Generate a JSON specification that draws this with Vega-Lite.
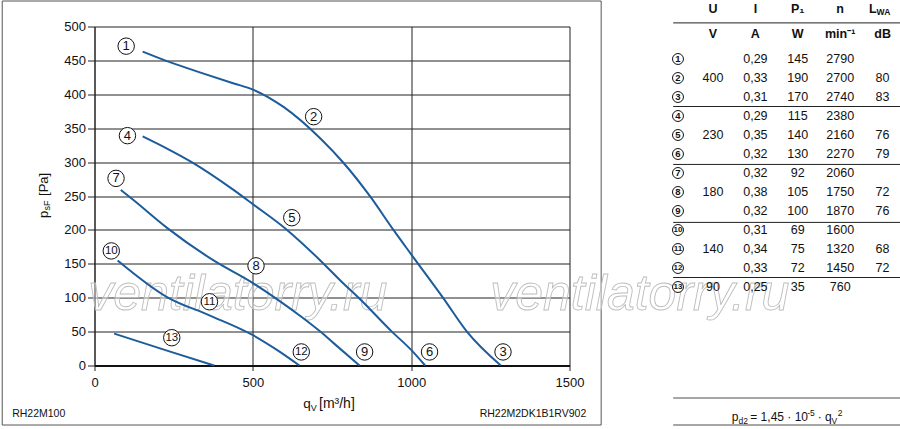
{
  "$schema": "https://vega.github.io/schema/vega-lite/v6.json",
  "background": "white",
  "padding": {"left": 1.5, "top": 0.5, "right": 0, "bottom": 0},
  "bounds": "flush",
  "spacing": 103.7,
  "config": {
    "font": "Liberation Sans",
    "view": {"stroke": null},
    "axis": {
      "labelFont": "Liberation Sans",
      "labelFontSize": 13,
      "labelColor": "#111",
      "gridColor": "#222",
      "gridOpacity": 1,
      "tickColor": "#222",
      "domainColor": "#222",
      "title": null
    },
    "axisY": {"tickCount": 20, "tickSize": 7, "labelPadding": 2, "labelOverlap": false, "format": "d"}
  },
  "datasets": {
    "curves": [
      {"s": "400V", "q": 152, "p": 463}, {"s": "400V", "q": 240, "p": 447}, {"s": "400V", "q": 335, "p": 432},
      {"s": "400V", "q": 440, "p": 416}, {"s": "400V", "q": 500, "p": 407}, {"s": "400V", "q": 598, "p": 381},
      {"s": "400V", "q": 715, "p": 334}, {"s": "400V", "q": 786, "p": 299},
      {"s": "400V", "q": 871, "p": 249}, {"s": "400V", "q": 944, "p": 200}, {"s": "400V", "q": 1000, "p": 164},
      {"s": "400V", "q": 1102, "p": 99}, {"s": "400V", "q": 1176, "p": 50}, {"s": "400V", "q": 1283, "p": 0},
      {"s": "230V", "q": 152, "p": 338}, {"s": "230V", "q": 229, "p": 320}, {"s": "230V", "q": 307, "p": 300},
      {"s": "230V", "q": 439, "p": 259}, {"s": "230V", "q": 500, "p": 238}, {"s": "230V", "q": 608, "p": 200},
      {"s": "230V", "q": 713, "p": 155}, {"s": "230V", "q": 786, "p": 121},
      {"s": "230V", "q": 834, "p": 100}, {"s": "230V", "q": 939, "p": 50}, {"s": "230V", "q": 1000, "p": 23},
      {"s": "230V", "q": 1044, "p": 0},
      {"s": "180V", "q": 83, "p": 259}, {"s": "180V", "q": 123, "p": 244}, {"s": "180V", "q": 229, "p": 203},
      {"s": "180V", "q": 376, "p": 155}, {"s": "180V", "q": 499, "p": 122}, {"s": "180V", "q": 576, "p": 98},
      {"s": "180V", "q": 650, "p": 73}, {"s": "180V", "q": 713, "p": 50}, {"s": "180V", "q": 755, "p": 33},
      {"s": "180V", "q": 837, "p": 0},
      {"s": "140V", "q": 73, "p": 155}, {"s": "140V", "q": 229, "p": 101}, {"s": "140V", "q": 363, "p": 74},
      {"s": "140V", "q": 499, "p": 45}, {"s": "140V", "q": 576, "p": 23}, {"s": "140V", "q": 647, "p": 0},
      {"s": "90V", "q": 62, "p": 47}, {"s": "90V", "q": 229, "p": 22}, {"s": "90V", "q": 378, "p": 0}
    ],
    "labels": [
      {"k": 1, "q": 100, "p": 471}, {"k": 2, "q": 692, "p": 367}, {"k": 3, "q": 1290, "p": 20},
      {"k": 4, "q": 104, "p": 339}, {"k": 5, "q": 623, "p": 218}, {"k": 6, "q": 1058, "p": 20},
      {"k": 7, "q": 68, "p": 276}, {"k": 8, "q": 510, "p": 147}, {"k": 9, "q": 853, "p": 20},
      {"k": 10, "q": 53, "p": 169}, {"k": 11, "q": 363, "p": 94}, {"k": 12, "q": 653, "p": 20},
      {"k": 13, "q": 244, "p": 41}
    ],
    "table": [
      {"r": 1, "id": 1, "U": "", "I": "0,29", "P": "145", "n": "2790", "L": ""},
      {"r": 2, "id": 2, "U": "400", "I": "0,33", "P": "190", "n": "2700", "L": "80"},
      {"r": 3, "id": 3, "U": "", "I": "0,31", "P": "170", "n": "2740", "L": "83"},
      {"r": 4, "id": 4, "U": "", "I": "0,29", "P": "115", "n": "2380", "L": ""},
      {"r": 5, "id": 5, "U": "230", "I": "0,35", "P": "140", "n": "2160", "L": "76"},
      {"r": 6, "id": 6, "U": "", "I": "0,32", "P": "130", "n": "2270", "L": "79"},
      {"r": 7, "id": 7, "U": "", "I": "0,32", "P": "92", "n": "2060", "L": ""},
      {"r": 8, "id": 8, "U": "180", "I": "0,38", "P": "105", "n": "1750", "L": "72"},
      {"r": 9, "id": 9, "U": "", "I": "0,32", "P": "100", "n": "1870", "L": "76"},
      {"r": 10, "id": 10, "U": "", "I": "0,31", "P": "69", "n": "1600", "L": ""},
      {"r": 11, "id": 11, "U": "140", "I": "0,34", "P": "75", "n": "1320", "L": "68"},
      {"r": 12, "id": 12, "U": "", "I": "0,33", "P": "72", "n": "1450", "L": "72"},
      {"r": 13, "id": 13, "U": "90", "I": "0,25", "P": "35", "n": "760", "L": ""}
    ]
  },
  "hconcat": [
    {
      "width": 475,
      "height": 339,
      "layer": [
        {
          "data": {"values": [{}]},
          "mark": {"type": "rect", "fillOpacity": 0, "stroke": "#555", "strokeWidth": 1},
          "encoding": {
            "x": {
              "datum": -291.4, "type": "quantitative",
              "scale": {"domain": [0, 1500], "nice": false, "zero": false},
              "axis": {"values": [0, 500, 1000, 1500], "format": "d", "grid": true, "title": null, "tickSize": 5, "labelPadding": 6, "labelFlush": false, "domainWidth": 2, "domainColor": "#111"}
            },
            "x2": {"datum": 1600},
            "y": {
              "datum": 537.6, "type": "quantitative",
              "scale": {"domain": [0, 500], "nice": false, "zero": false}
            },
            "y2": {"datum": -87.8}
          }
        },
        {
          "data": {"values": [{}]},
          "mark": {"type": "text", "text": "ventilatorry.ru", "fontSize": 50, "fontStyle": "italic", "align": "left", "baseline": "alphabetic", "fill": "#ffffff", "fillOpacity": 0.4, "stroke": "#bdbdbd", "strokeWidth": 0.9},
          "encoding": {
            "x": {"datum": -20, "type": "quantitative"},
            "y": {"datum": 82, "type": "quantitative"}
          }
        },
        {
          "data": {"values": [{}]},
          "mark": {"type": "text", "text": "ventilatorry.ru", "fontSize": 50, "fontStyle": "italic", "align": "left", "baseline": "alphabetic", "fill": "#ffffff", "fillOpacity": 0.4, "stroke": "#bdbdbd", "strokeWidth": 0.9},
          "encoding": {
            "x": {"datum": 1249.5, "type": "quantitative"},
            "y": {"datum": 82, "type": "quantitative"}
          }
        },
        {
          "data": {"name": "curves"},
          "mark": {"type": "line", "interpolate": "monotone", "color": "#1d5c9b", "strokeWidth": 2},
          "encoding": {
            "x": {"field": "q", "type": "quantitative"},
            "y": {
              "field": "p", "type": "quantitative",
              "scale": {"domain": [0, 500], "nice": false, "zero": false},
              "axis": {"values": [0, 50, 100, 150, 200, 250, 300, 350, 400, 450, 500], "tickCount": 20, "format": "d", "grid": true, "title": null, "tickSize": 7, "labelPadding": 2, "labelOverlap": false}
            },
            "detail": {"field": "s"}
          }
        },
        {
          "data": {"name": "labels"},
          "mark": {"type": "point", "shape": "circle", "filled": true, "fill": "white", "stroke": "#111", "strokeWidth": 1, "size": 270, "opacity": 1},
          "encoding": {
            "x": {"field": "q", "type": "quantitative"},
            "y": {"field": "p", "type": "quantitative"}
          }
        },
        {
          "data": {"name": "labels"},
          "mark": {"type": "text", "align": "center", "baseline": "middle", "color": "#111"},
          "encoding": {
            "x": {"field": "q", "type": "quantitative"},
            "y": {"field": "p", "type": "quantitative"},
            "text": {"field": "k"},
            "size": {"condition": {"test": "datum.k > 9", "value": 11.5}, "value": 13}
          }
        },
        {
          "data": {"values": [{"t": "p"}, {"t": "sF"}, {"t": "[Pa]"}]},
          "layer": [
            {
              "transform": [{"filter": "datum.t == 'p'"}],
              "mark": {"type": "text", "angle": 270, "align": "left", "baseline": "alphabetic", "fontSize": 13, "color": "#111"},
              "encoding": {
                "x": {"datum": -147.8, "type": "quantitative"},
                "y": {"datum": 217.6, "type": "quantitative"},
                "text": {"field": "t"}
              }
            },
            {
              "transform": [{"filter": "datum.t == 'sF'"}],
              "mark": {"type": "text", "angle": 270, "align": "left", "baseline": "alphabetic", "fontSize": 9, "dx": 7.5, "dy": 2.5, "color": "#111"},
              "encoding": {
                "x": {"datum": -147.8, "type": "quantitative"},
                "y": {"datum": 217.6, "type": "quantitative"},
                "text": {"field": "t"}
              }
            },
            {
              "transform": [{"filter": "datum.t == '[Pa]'"}],
              "mark": {"type": "text", "angle": 270, "align": "left", "baseline": "alphabetic", "fontSize": 13, "dx": 22, "color": "#111"},
              "encoding": {
                "x": {"datum": -147.8, "type": "quantitative"},
                "y": {"datum": 217.6, "type": "quantitative"},
                "text": {"field": "t"}
              }
            }
          ]
        },
        {
          "data": {"values": [{}]},
          "mark": {"type": "text", "text": "q", "align": "left", "baseline": "alphabetic", "fontSize": 13.5, "dx": -28.8, "color": "#111"},
          "encoding": {
            "x": {"datum": 750, "type": "quantitative"},
            "y": {"datum": -62.7, "type": "quantitative"}
          }
        },
        {
          "data": {"values": [{}]},
          "mark": {"type": "text", "text": "V", "align": "left", "baseline": "alphabetic", "fontSize": 9, "dx": -21.2, "dy": 3, "color": "#111"},
          "encoding": {
            "x": {"datum": 750, "type": "quantitative"},
            "y": {"datum": -62.7, "type": "quantitative"}
          }
        },
        {
          "data": {"values": [{}]},
          "mark": {"type": "text", "text": "[m³/h]", "align": "left", "baseline": "alphabetic", "fontSize": 14, "dx": -13, "color": "#111"},
          "encoding": {
            "x": {"datum": 750, "type": "quantitative"},
            "y": {"datum": -62.7, "type": "quantitative"}
          }
        },
        {
          "data": {"values": [{}]},
          "mark": {"type": "text", "text": "RH22M100", "align": "left", "baseline": "alphabetic", "fontSize": 10.5, "color": "#111"},
          "encoding": {
            "x": {"datum": -260, "type": "quantitative"},
            "y": {"datum": -76, "type": "quantitative"}
          }
        },
        {
          "data": {"values": [{}]},
          "mark": {"type": "text", "text": "RH22M2DK1B1RV902", "align": "right", "baseline": "alphabetic", "fontSize": 10.5, "color": "#111"},
          "encoding": {
            "x": {"datum": 1553, "type": "quantitative"},
            "y": {"datum": -76, "type": "quantitative"}
          }
        }
      ]
    },
    {
      "width": 227,
      "height": 398.5,
      "layer": [
        {
          "data": {"values": [{"b": -0.9}, {"b": 3.5}, {"b": 6.55}, {"b": 9.6}, {"b": 12.5}]},
          "mark": {"type": "rule", "color": "#222", "strokeWidth": 1},
          "encoding": {
            "y": {"field": "b", "type": "quantitative", "scale": {"domain": [-0.7105, 20.263], "reverse": true, "nice": false, "zero": false}, "axis": null}
          }
        },
        {
          "data": {"values": [{"b": 18.84}, {"b": 20.26}]},
          "mark": {"type": "rule", "color": "#888", "strokeWidth": 1.5},
          "encoding": {
            "y": {"field": "b", "type": "quantitative", "scale": {"domain": [-0.7105, 20.263], "reverse": true, "nice": false, "zero": false}, "axis": null}
          }
        },
        {
          "data": {"name": "table"},
          "mark": {"type": "point", "shape": "circle", "filled": true, "fill": "white", "stroke": "#111", "strokeWidth": 1, "size": 120, "opacity": 1, "xOffset": -35},
          "encoding": {
            "x": {"datum": "U", "type": "nominal", "scale": {"type": "point", "domain": ["U", "I", "P", "n", "L"], "padding": 0.677, "align": 0.693}, "axis": null},
            "y": {"field": "r", "type": "quantitative", "scale": {"domain": [-0.7105, 20.263], "reverse": true, "nice": false, "zero": false}, "axis": null}
          }
        },
        {
          "data": {"name": "table"},
          "mark": {"type": "text", "fontWeight": "bold", "dx": -35, "align": "center", "baseline": "middle", "color": "#111"},
          "encoding": {
            "x": {"datum": "U", "type": "nominal", "scale": {"type": "point", "domain": ["U", "I", "P", "n", "L"], "padding": 0.677, "align": 0.693}, "axis": null},
            "y": {"field": "r", "type": "quantitative", "scale": {"domain": [-0.7105, 20.263], "reverse": true, "nice": false, "zero": false}, "axis": null},
            "text": {"field": "id"},
            "size": {"condition": {"test": "datum.id > 9", "value": 8}, "value": 9.5}
          }
        },
        {
          "data": {"name": "table"},
          "transform": [{"fold": ["U", "I", "P", "n", "L"], "as": ["col", "val"]}],
          "mark": {"type": "text", "fontSize": 12.5, "align": "center", "baseline": "middle", "color": "#111"},
          "encoding": {
            "x": {"field": "col", "type": "nominal", "scale": {"type": "point", "domain": ["U", "I", "P", "n", "L"], "padding": 0.677, "align": 0.693}, "axis": null},
            "y": {"field": "r", "type": "quantitative", "scale": {"domain": [-0.7105, 20.263], "reverse": true, "nice": false, "zero": false}, "axis": null},
            "text": {"field": "val"}
          }
        },
        {
          "data": {"values": [{"r": -1, "U": "U", "I": "I", "P": "P₁", "n": "n"}]},
          "transform": [{"fold": ["U", "I", "P", "n"], "as": ["col", "val"]}],
          "mark": {"type": "text", "fontSize": 12.5, "fontWeight": "bold", "align": "center", "baseline": "middle", "dy": -12, "color": "#111"},
          "encoding": {
            "x": {"field": "col", "type": "nominal", "scale": {"type": "point", "domain": ["U", "I", "P", "n", "L"], "padding": 0.677, "align": 0.693}, "axis": null},
            "y": {"field": "r", "type": "quantitative", "scale": {"domain": [-0.7105, 20.263], "reverse": true, "nice": false, "zero": false}, "axis": null},
            "text": {"field": "val"}
          }
        },
        {
          "data": {"values": [{"r": -1}]},
          "mark": {"type": "text", "text": "L", "fontSize": 12.5, "fontWeight": "bold", "align": "right", "baseline": "middle", "dx": -6, "dy": -12, "color": "#111"},
          "encoding": {
            "x": {"datum": "L", "type": "nominal", "scale": {"type": "point", "domain": ["U", "I", "P", "n", "L"], "padding": 0.677, "align": 0.693}, "axis": null},
            "y": {"field": "r", "type": "quantitative", "scale": {"domain": [-0.7105, 20.263], "reverse": true, "nice": false, "zero": false}, "axis": null}
          }
        },
        {
          "data": {"values": [{"r": -1}]},
          "mark": {"type": "text", "text": "WA", "fontSize": 8.5, "fontWeight": "bold", "align": "left", "baseline": "middle", "dx": -6, "dy": -9, "color": "#111"},
          "encoding": {
            "x": {"datum": "L", "type": "nominal", "scale": {"type": "point", "domain": ["U", "I", "P", "n", "L"], "padding": 0.677, "align": 0.693}, "axis": null},
            "y": {"field": "r", "type": "quantitative", "scale": {"domain": [-0.7105, 20.263], "reverse": true, "nice": false, "zero": false}, "axis": null}
          }
        },
        {
          "data": {"values": [{"r": 0, "U": "V", "I": "A", "P": "W", "n": "min⁻¹", "L": "dB"}]},
          "transform": [{"fold": ["U", "I", "P", "n", "L"], "as": ["col", "val"]}],
          "mark": {"type": "text", "fontSize": 12.5, "fontWeight": "bold", "align": "center", "baseline": "middle", "dy": -6, "color": "#111"},
          "encoding": {
            "x": {"field": "col", "type": "nominal", "scale": {"type": "point", "domain": ["U", "I", "P", "n", "L"], "padding": 0.677, "align": 0.693}, "axis": null},
            "y": {"field": "r", "type": "quantitative", "scale": {"domain": [-0.7105, 20.263], "reverse": true, "nice": false, "zero": false}, "axis": null},
            "text": {"field": "val"}
          }
        },
        {
          "data": {"values": [{"t": "p"}, {"t": "d2"}, {"t": "= 1,45 · 10"}, {"t": "-5"}, {"t": "· q"}, {"t": "V"}, {"t": "2"}]},
          "layer": [
            {
              "transform": [{"filter": "datum.t == 'p'"}],
              "mark": {"type": "text", "fontSize": 12, "align": "left", "baseline": "alphabetic", "dx": -66, "color": "#111"},
              "encoding": {
                "x": {"datum": "P", "type": "nominal", "scale": {"type": "point", "domain": ["U", "I", "P", "n", "L"], "padding": 0.677, "align": 0.693}, "axis": null},
                "y": {"datum": 20.05, "type": "quantitative", "scale": {"domain": [-0.7105, 20.263], "reverse": true, "nice": false, "zero": false}, "axis": null},
                "text": {"field": "t"}
              }
            },
            {
              "transform": [{"filter": "datum.t == 'd2'"}],
              "mark": {"type": "text", "fontSize": 8.5, "align": "left", "baseline": "alphabetic", "dx": -59.2, "dy": 3, "color": "#111"},
              "encoding": {
                "x": {"datum": "P", "type": "nominal", "scale": {"type": "point", "domain": ["U", "I", "P", "n", "L"], "padding": 0.677, "align": 0.693}, "axis": null},
                "y": {"datum": 20.05, "type": "quantitative", "scale": {"domain": [-0.7105, 20.263], "reverse": true, "nice": false, "zero": false}, "axis": null},
                "text": {"field": "t"}
              }
            },
            {
              "transform": [{"filter": "datum.t == '= 1,45 · 10'"}],
              "mark": {"type": "text", "fontSize": 12, "align": "left", "baseline": "alphabetic", "dx": -47.5, "color": "#111"},
              "encoding": {
                "x": {"datum": "P", "type": "nominal", "scale": {"type": "point", "domain": ["U", "I", "P", "n", "L"], "padding": 0.677, "align": 0.693}, "axis": null},
                "y": {"datum": 20.05, "type": "quantitative", "scale": {"domain": [-0.7105, 20.263], "reverse": true, "nice": false, "zero": false}, "axis": null},
                "text": {"field": "t"}
              }
            },
            {
              "transform": [{"filter": "datum.t == '-5'"}],
              "mark": {"type": "text", "fontSize": 8.5, "align": "left", "baseline": "alphabetic", "dx": 9.5, "dy": -5, "color": "#111"},
              "encoding": {
                "x": {"datum": "P", "type": "nominal", "scale": {"type": "point", "domain": ["U", "I", "P", "n", "L"], "padding": 0.677, "align": 0.693}, "axis": null},
                "y": {"datum": 20.05, "type": "quantitative", "scale": {"domain": [-0.7105, 20.263], "reverse": true, "nice": false, "zero": false}, "axis": null},
                "text": {"field": "t"}
              }
            },
            {
              "transform": [{"filter": "datum.t == '· q'"}],
              "mark": {"type": "text", "fontSize": 12, "align": "left", "baseline": "alphabetic", "dx": 20, "color": "#111"},
              "encoding": {
                "x": {"datum": "P", "type": "nominal", "scale": {"type": "point", "domain": ["U", "I", "P", "n", "L"], "padding": 0.677, "align": 0.693}, "axis": null},
                "y": {"datum": 20.05, "type": "quantitative", "scale": {"domain": [-0.7105, 20.263], "reverse": true, "nice": false, "zero": false}, "axis": null},
                "text": {"field": "t"}
              }
            },
            {
              "transform": [{"filter": "datum.t == 'V'"}],
              "mark": {"type": "text", "fontSize": 8.5, "align": "left", "baseline": "alphabetic", "dx": 33.6, "dy": 3, "color": "#111"},
              "encoding": {
                "x": {"datum": "P", "type": "nominal", "scale": {"type": "point", "domain": ["U", "I", "P", "n", "L"], "padding": 0.677, "align": 0.693}, "axis": null},
                "y": {"datum": 20.05, "type": "quantitative", "scale": {"domain": [-0.7105, 20.263], "reverse": true, "nice": false, "zero": false}, "axis": null},
                "text": {"field": "t"}
              }
            },
            {
              "transform": [{"filter": "datum.t == '2'"}],
              "mark": {"type": "text", "fontSize": 8.5, "align": "left", "baseline": "alphabetic", "dx": 40, "dy": -5, "color": "#111"},
              "encoding": {
                "x": {"datum": "P", "type": "nominal", "scale": {"type": "point", "domain": ["U", "I", "P", "n", "L"], "padding": 0.677, "align": 0.693}, "axis": null},
                "y": {"datum": 20.05, "type": "quantitative", "scale": {"domain": [-0.7105, 20.263], "reverse": true, "nice": false, "zero": false}, "axis": null},
                "text": {"field": "t"}
              }
            }
          ]
        }
      ]
    }
  ]
}
